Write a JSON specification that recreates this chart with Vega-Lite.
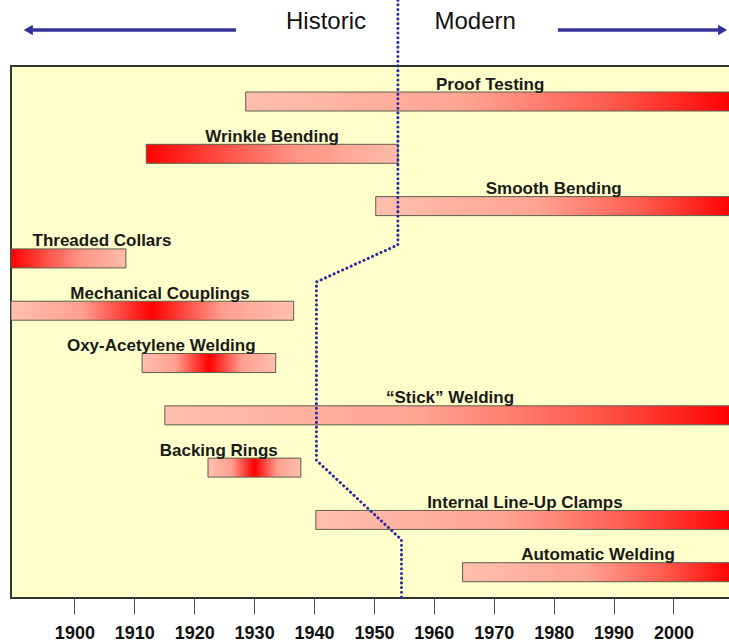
{
  "$schema": "https://vega.github.io/schema/vega-lite/v6.json",
  "autosize": "none",
  "width": 720,
  "height": 532,
  "padding": {"left": 11, "top": 66, "right": 0, "bottom": 45},
  "background": "white",
  "config": {
    "view": {"fill": "#FFFFCC", "stroke": "#333333", "strokeWidth": 2},
    "font": "Liberation Sans"
  },
  "datasets": {
    "methods": [
      {"method": "Proof Testing", "row": 1, "start": 1928.6, "end": 2010, "trend": "growing", "labelYear": 1969.4},
      {"method": "Wrinkle Bending", "row": 2, "start": 1912.0, "end": 1954.0, "trend": "declining", "labelYear": 1933.0},
      {"method": "Smooth Bending", "row": 3, "start": 1950.3, "end": 2010, "trend": "growing", "labelYear": 1980.0},
      {"method": "Threaded Collars", "row": 4, "start": 1889.42, "end": 1908.6, "trend": "declining", "labelYear": 1904.6},
      {"method": "Mechanical Couplings", "row": 5, "start": 1889.42, "end": 1936.6, "trend": "peaked", "labelYear": 1914.3},
      {"method": "Oxy-Acetylene Welding", "row": 6, "start": 1911.3, "end": 1933.6, "trend": "peaked", "labelYear": 1914.5},
      {"method": "“Stick” Welding", "row": 7, "start": 1915.1, "end": 2010, "trend": "growing", "labelYear": 1962.7},
      {"method": "Backing Rings", "row": 8, "start": 1922.3, "end": 1937.8, "trend": "peaked", "labelYear": 1924.1},
      {"method": "Internal Line-Up Clamps", "row": 9, "start": 1940.3, "end": 2010, "trend": "growing", "labelYear": 1975.2},
      {"method": "Automatic Welding", "row": 10, "start": 1964.8, "end": 2010, "trend": "growing", "labelYear": 1987.4}
    ],
    "divider": [
      {"order": 1, "year": 1954.0, "row": -0.94},
      {"order": 2, "year": 1954.0, "row": 3.74},
      {"order": 3, "year": 1940.4, "row": 4.45},
      {"order": 4, "year": 1940.4, "row": 7.86},
      {"order": 5, "year": 1954.6, "row": 9.38},
      {"order": 6, "year": 1954.6, "row": 10.49}
    ],
    "eras": [
      {"era": "Historic", "year": 1942.0, "row": -0.39},
      {"era": "Modern", "year": 1966.9, "row": -0.39}
    ],
    "arrows": [
      {"era": "Historic", "from": 1892.3, "to": 1926.97, "head": 1892.3, "row": -0.367, "dir": "left"},
      {"era": "Modern", "from": 1980.7, "to": 2008.2, "head": 2008.2, "row": -0.367, "dir": "right"}
    ]
  },
  "layer": [
    {
      "data": {"name": "methods"},
      "transform": [{"filter": "datum.trend === 'growing'"}],
      "mark": {
        "type": "bar", "orient": "horizontal", "height": 19,
        "stroke": "#5E5E4E", "strokeWidth": 1,
        "fill": {"gradient": "linear", "x1": 0, "y1": 0, "x2": 1, "y2": 0,
          "stops": [
            {"offset": 0, "color": "#FFBFAE"},
            {"offset": 0.45, "color": "#FFA493"},
            {"offset": 0.75, "color": "#FF5A4D"},
            {"offset": 1, "color": "#FF0000"}
          ]}
      },
      "encoding": {
        "x": {"field": "start", "type": "quantitative",
          "scale": {"domain": [1889.42, 2009.6], "nice": false, "zero": false, "padding": 0},
          "axis": {"values": [1900, 1910, 1920, 1930, 1940, 1950, 1960, 1970, 1980, 1990, 2000],
            "title": null, "domain": false, "grid": false, "tickSize": 16, "tickColor": "#555555",
            "tickWidth": 1, "labelFontSize": 18, "labelFontWeight": "bold", "labelColor": "#111111",
            "labelPadding": 10, "labelFont": "Liberation Sans", "format": "d"}},
        "x2": {"field": "end"},
        "y": {"field": "row", "type": "quantitative",
          "scale": {"domain": [0.321, 10.493], "reverse": true, "nice": false, "zero": false, "padding": 0},
          "axis": null}
      }
    },
    {
      "data": {"name": "methods"},
      "transform": [{"filter": "datum.trend === 'declining'"}],
      "mark": {
        "type": "bar", "orient": "horizontal", "height": 19,
        "stroke": "#5E5E4E", "strokeWidth": 1,
        "fill": {"gradient": "linear", "x1": 0, "y1": 0, "x2": 1, "y2": 0,
          "stops": [
            {"offset": 0, "color": "#FF0000"},
            {"offset": 0.3, "color": "#FF4F45"},
            {"offset": 0.6, "color": "#FF9585"},
            {"offset": 1, "color": "#FFBBAA"}
          ]}
      },
      "encoding": {
        "x": {"field": "start", "type": "quantitative"},
        "x2": {"field": "end"},
        "y": {"field": "row", "type": "quantitative"}
      }
    },
    {
      "data": {"name": "methods"},
      "transform": [{"filter": "datum.trend === 'peaked'"}],
      "mark": {
        "type": "bar", "orient": "horizontal", "height": 19,
        "stroke": "#5E5E4E", "strokeWidth": 1,
        "fill": {"gradient": "linear", "x1": 0, "y1": 0, "x2": 1, "y2": 0,
          "stops": [
            {"offset": 0, "color": "#FFBFAE"},
            {"offset": 0.25, "color": "#FFA090"},
            {"offset": 0.5, "color": "#FF0000"},
            {"offset": 0.75, "color": "#FFA090"},
            {"offset": 1, "color": "#FFBFAE"}
          ]}
      },
      "encoding": {
        "x": {"field": "start", "type": "quantitative"},
        "x2": {"field": "end"},
        "y": {"field": "row", "type": "quantitative"}
      }
    },
    {
      "data": {"name": "methods"},
      "mark": {"type": "text", "fontSize": 17, "fontWeight": "bold", "font": "Liberation Sans",
        "color": "#1A1A1A", "baseline": "alphabetic", "align": "center", "dy": -12},
      "encoding": {
        "x": {"field": "labelYear", "type": "quantitative"},
        "y": {"field": "row", "type": "quantitative"},
        "text": {"field": "method"}
      }
    },
    {
      "data": {"name": "divider"},
      "mark": {"type": "line", "color": "#2B2BA0", "strokeWidth": 3, "strokeDash": [0.1, 4.6], "strokeCap": "round"},
      "encoding": {
        "x": {"field": "year", "type": "quantitative"},
        "y": {"field": "row", "type": "quantitative"},
        "order": {"field": "order"}
      }
    },
    {
      "data": {"name": "eras"},
      "mark": {"type": "text", "fontSize": 24, "font": "Liberation Sans", "color": "#111111",
        "baseline": "alphabetic", "align": "center"},
      "encoding": {
        "x": {"field": "year", "type": "quantitative"},
        "y": {"field": "row", "type": "quantitative"},
        "text": {"field": "era"}
      }
    },
    {
      "data": {"name": "arrows"},
      "mark": {"type": "rule", "color": "#333399", "strokeWidth": 3.5},
      "encoding": {
        "x": {"field": "from", "type": "quantitative"},
        "x2": {"field": "to"},
        "y": {"field": "row", "type": "quantitative"}
      }
    },
    {
      "data": {"name": "arrows"},
      "transform": [{"filter": "datum.dir === 'left'"}],
      "mark": {"type": "point", "shape": "triangle-left", "filled": true, "color": "#333399", "opacity": 1, "size": 110},
      "encoding": {
        "x": {"field": "head", "type": "quantitative"},
        "y": {"field": "row", "type": "quantitative"}
      }
    },
    {
      "data": {"name": "arrows"},
      "transform": [{"filter": "datum.dir === 'right'"}],
      "mark": {"type": "point", "shape": "triangle-right", "filled": true, "color": "#333399", "opacity": 1, "size": 110},
      "encoding": {
        "x": {"field": "head", "type": "quantitative"},
        "y": {"field": "row", "type": "quantitative"}
      }
    }
  ]
}
